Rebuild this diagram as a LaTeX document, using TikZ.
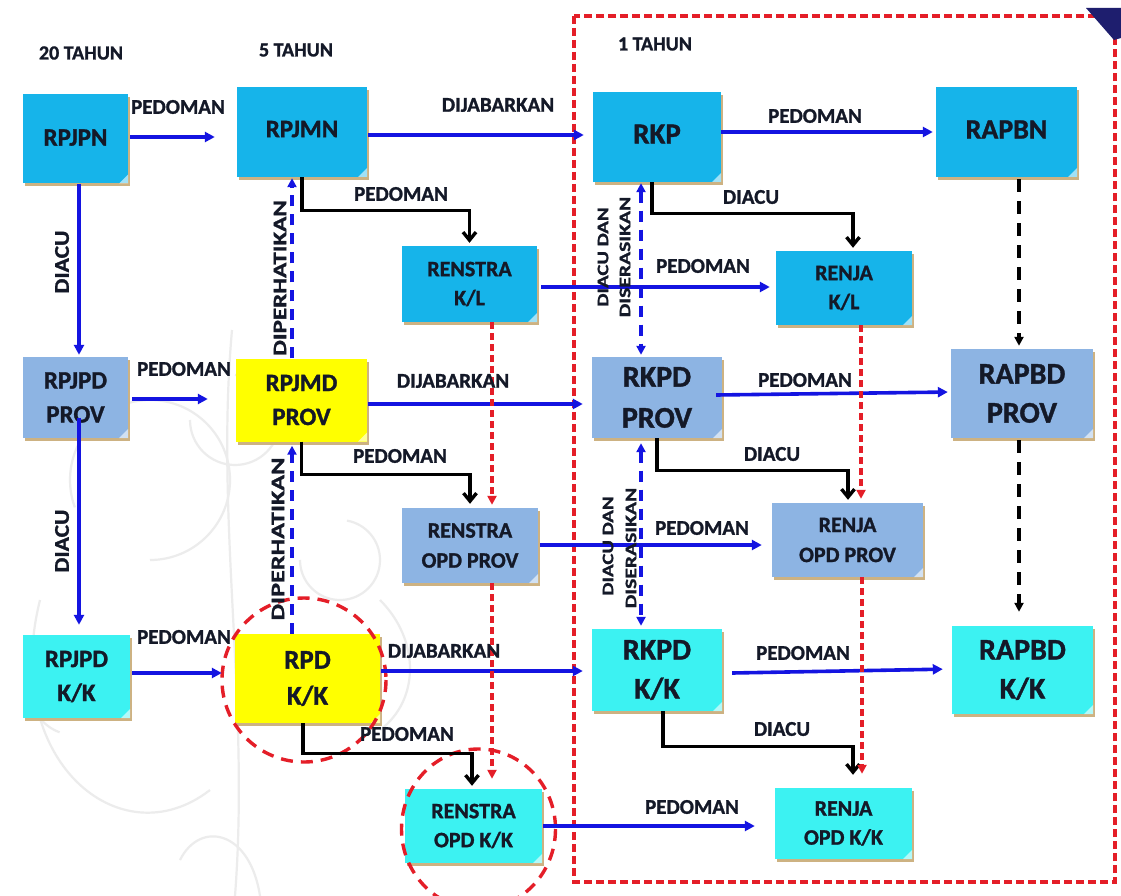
\documentclass[tikz,border=0pt]{standalone}
\usepackage{fontspec}
\setmainfont{Carlito}[BoldFeatures={FakeBold=1.2}]
\usetikzlibrary{arrows.meta,calc,shadows}

\definecolor{natblue}{RGB}{22,180,234}
\definecolor{provblue}{RGB}{141,180,227}
\definecolor{kkcyan}{RGB}{60,242,242}
\definecolor{ylw}{RGB}{255,255,0}
\definecolor{txt}{RGB}{20,25,40}
\definecolor{arrblue}{RGB}{20,20,225}
\definecolor{dred}{RGB}{228,30,40}
\definecolor{navy}{RGB}{30,30,110}
\definecolor{shadowtan}{RGB}{205,178,130}
\definecolor{swirl}{RGB}{236,236,236}

\newcommand\myfs[2]{\fontsize{#1}{#2}\selectfont}

\tikzset{
  box/.style={fill=#1, draw=none, align=center, text=txt, inner sep=0pt,
    general shadow={fill=shadowtan, shadow xshift=2pt, shadow yshift=-3pt},
    path picture={\fill[white,opacity=0.6] (path picture bounding box.south east) -- ++(-9pt,0pt) -- ++(9pt,9pt) -- cycle;}},
  bw/.style 2 args={minimum width=#1 pt, minimum height=#2 pt},
  lbl/.style={font=\bfseries\myfs{21}{25}, text=txt, inner sep=0pt},
  tlbl/.style={font=\bfseries\myfs{20}{24}, text=txt, inner sep=0pt},
  vlbl/.style={font=\bfseries\myfs{#1}{#1}, text=txt, inner sep=0pt, rotate=90},
  barrow/.style={draw=arrblue, line width=3.6pt, -{Triangle[length=10pt,width=10pt]}},
  karrow/.style={draw=black, line width=3.4pt, -{Straight Barb[length=8pt,width=13pt]}},
  bdash/.style={draw=arrblue, line width=3.4pt, dash pattern=on 11pt off 8pt, -{Triangle[length=9pt,width=9pt]}},
  bdash2/.style={draw=arrblue, line width=3.4pt, dash pattern=on 11pt off 8pt, {Triangle[length=9pt,width=9pt]}-{Triangle[length=9pt,width=9pt]}},
  kdash/.style={draw=black, line width=3.4pt, dash pattern=on 13pt off 9pt, -{Triangle[length=9pt,width=9pt]}},
  rdash/.style={draw=dred, line width=3.4pt, dash pattern=on 7pt off 4pt, -{Triangle[length=9pt,width=9pt]}},
  swirlline/.style={draw=swirl, line width=2.2pt},
}

\begin{document}
\begin{tikzpicture}[x=1pt,y=-1pt]
\useasboundingbox (0,0) rectangle (1121,896);
\fill[white] (0,0) rectangle (1121,896);

% faint background swirls
\draw[swirlline] (232,330) .. controls (215,520) and (250,700) .. (235,896);
\draw[swirlline] (190,420) arc[start angle=180, end angle=-90, radius=45];
\draw[swirlline] (150,560) arc[start angle=90, end angle=-200, radius=80];
\draw[swirlline] (120,690) arc[start angle=0, end angle=-250, radius=45];
\draw[swirlline] (40,600) .. controls (0,760) and (120,860) .. (210,790);
\draw[swirlline] (300,560) arc[start angle=180, end angle=-80, radius=40];
\draw[swirlline] (180,860) .. controls (200,820) and (250,830) .. (260,896);
\draw[swirlline] (380,600) .. controls (420,640) and (420,700) .. (380,730);

% frame for the 1-year group
\draw[dred, line width=3.4pt, dash pattern=on 8pt off 4pt] (574,16) rectangle (1115,882);
\fill[navy] (1086,8) -- (1121,8) -- (1121,38) -- (1114,40) -- cycle;

% period headers
\node[tlbl] (h20) at (81,53) {20 TAHUN};
\node[tlbl] (h5) at (296,50) {5 TAHUN};
\node[tlbl] (h1) at (655,44) {1 TAHUN};

% boxes
\node[box=natblue, bw={105}{89}, font=\bfseries\myfs{25}{34}] (RPJPN) at (75.5,139) {\raisebox{3pt}{RPJPN}};
\node[box=natblue, bw={130}{90}, font=\bfseries\myfs{25}{34}] (RPJMN) at (302,132) {\raisebox{6pt}{RPJMN}};
\node[box=natblue, bw={128}{90}, font=\bfseries\myfs{29}{38}] (RKP) at (657,137) {\raisebox{6pt}{RKP}};
\node[box=natblue, bw={141}{90}, font=\bfseries\myfs{28}{38}] (RAPBN) at (1006.5,132) {\raisebox{5pt}{RAPBN}};
\node[box=natblue, bw={135}{76}, font=\bfseries\myfs{22}{29}] (RENSTRAKL) at (469.5,284) {RENSTRA\\K/L};
\node[box=natblue, bw={136}{74}, font=\bfseries\myfs{22}{29}] (RENJAKL) at (844,288) {RENJA\\K/L};

\node[box=provblue, bw={105}{81}, font=\bfseries\myfs{25}{34}] (RPJPDPROV) at (75.5,397.5) {RPJPD\\PROV};
\node[box=ylw, bw={131}{83}, font=\bfseries\myfs{25}{34}] (RPJMDPROV) at (301.5,400) {RPJMD\\PROV};
\node[box=provblue, bw={130}{81}, font=\bfseries\myfs{30}{41}] (RKPDPROV) at (657,397.5) {RKPD\\PROV};
\node[box=provblue, bw={142}{89}, font=\bfseries\myfs{30}{39}] (RAPBDPROV) at (1022,393.5) {RAPBD\\PROV};
\node[box=provblue, bw={136}{75}, font=\bfseries\myfs{22}{30}] (RENSTRAOPDPROV) at (470,545.5) {RENSTRA\\OPD PROV};
\node[box=provblue, bw={151}{74}, font=\bfseries\myfs{22}{30}] (RENJAOPDPROV) at (847.5,540) {RENJA\\OPD PROV};

\node[box=kkcyan, bw={107}{83}, font=\bfseries\myfs{25}{34}] (RPJPDKK) at (76.5,676.5) {RPJPD\\K/K};
\node[box=ylw, bw={145}{89}, font=\bfseries\myfs{27}{36}] (RPDKK) at (307.5,678.5) {RPD\\K/K};
\node[box=kkcyan, bw={130}{82}, font=\bfseries\myfs{30}{39}] (RKPDKK) at (657,670) {RKPD\\K/K};
\node[box=kkcyan, bw={141}{88}, font=\bfseries\myfs{30}{39}] (RAPBDKK) at (1022.5,670) {RAPBD\\K/K};
\node[box=kkcyan, bw={137}{74}, font=\bfseries\myfs{22}{29}] (RENSTRAOPDKK) at (473.5,826) {RENSTRA\\OPD K/K};
\node[box=kkcyan, bw={137}{71}, font=\bfseries\myfs{22}{29}] (RENJAOPDKK) at (843.5,823.5) {RENJA\\OPD K/K};

% highlight circles
\draw[dred, line width=3.4pt, dash pattern=on 12pt off 8pt] (304,680) circle [radius=82];
\draw[dred, line width=3.4pt, dash pattern=on 12pt off 8pt] (478.5,829) ellipse [x radius=77, y radius=80];

% blue solid arrows
\draw[barrow, shorten >=22pt] ($(RPJPN.east)+(2,-2)$) -- ($(RPJMN.west)+(0,5)$);
\draw[barrow, shorten >=9pt] ($(RPJMN.east)+(1,3)$) -- ($(RKP.west)+(0,-2)$);
\draw[barrow, shorten >=3pt] ($(RKP.east)+(0,-5)$) -- ($(RAPBN.west)+(0,0)$);
\draw[barrow, shorten >=6pt] ($(RENSTRAKL.east)+(4,3)$) -- ($(RENJAKL.west)+(0,-1)$);
\draw[barrow, shorten >=2pt] ($(RPJPN.south)+(3.5,0)$) -- ($(RPJPDPROV.north)+(3.5,0)$);

\draw[barrow, shorten >=28pt] ($(RPJPDPROV.east)+(4,1.5)$) -- ($(RPJMDPROV.west)+(0,-1)$);
\draw[barrow, shorten >=9pt] ($(RPJMDPROV.east)+(1,4)$) -- ($(RKPDPROV.west)+(0,6.5)$);
\draw[barrow, shorten >=3pt] ($(RKPDPROV.east)+(-6,-2.5)$) -- ($(RAPBDPROV.west)+(0,-1.5)$);
\draw[barrow, shorten >=10pt] ($(RPJPDPROV.center)+(3.5,20)$) -- ($(RPJPDKK.north)+(2.5,0)$);
\draw[barrow, shorten >=10pt] ($(RENSTRAOPDPROV.east)+(2,-0.5)$) -- ($(RENJAOPDPROV.west)+(0,5)$);

\draw[barrow, shorten >=13pt] ($(RPJPDKK.east)+(2,-3.5)$) -- ($(RPDKK.west)+(0,-5.5)$);
\draw[barrow, shorten >=9pt] ($(RPDKK.east)+(1,-7.5)$) -- ($(RKPDKK.west)+(0,1)$);
\draw[barrow, shorten >=9pt] ($(RKPDKK.east)+(10,3)$) -- ($(RAPBDKK.west)+(0,-1)$);
\draw[barrow, shorten >=20pt] ($(RENSTRAOPDKK.east)+(1,0)$) -- ($(RENJAOPDKK.west)+(0,2.5)$);

% black elbow arrows
\draw[karrow, shorten >=3pt] (RPJMN.south) -- ++(0,33) -| (RENSTRAKL.north);
\draw[karrow, shorten >=3pt] ($(RKP.south)+(-5,0)$) -- ++(0,31) -| ($(RENJAKL.north)+(9,0)$);
\draw[karrow, shorten >=4pt] (RPJMDPROV.south) -- ++(0,33) -| (RENSTRAOPDPROV.north);
\draw[karrow, shorten >=3pt] (RKPDPROV.south) -- ++(0,32) -| ($(RENJAOPDPROV.north)+(0.5,0)$);
\draw[karrow, shorten >=3pt] ($(RPDKK.south)+(-4.5,0)$) -- ++(0,30) -| ($(RENSTRAOPDKK.north)+(-1.5,0)$);
\draw[karrow, shorten >=13pt] ($(RKPDKK.south)+(6,0)$) -- ++(0,35) -| ($(RENJAOPDKK.north)+(9.5,0)$);

% blue dashed
\draw[bdash, shorten >=1pt] ($(RPJMDPROV.north)+(-9.5,0)$) -- ($(RPJMN.south)+(-10,0)$);
\draw[bdash, shorten >=4pt] ($(RPDKK.north)+(-15.5,0)$) -- ($(RPJMDPROV.south)+(-9.5,0)$);
\draw[bdash2, shorten >=2pt, shorten <=1pt] ($(RKP.south)+(-16,0)$) -- ($(RKPDPROV.north)+(-16,0)$);
\draw[bdash2, shorten >=3pt, shorten <=5pt] ($(RKPDPROV.south)+(-16,0)$) -- ($(RKPDKK.north)+(-16,0)$);

% black dashed
\draw[kdash, shorten >=3pt] ($(RAPBN.south)+(12.5,2)$) -- ($(RAPBDPROV.north)+(-3,0)$);
\draw[kdash, shorten >=14pt] ($(RAPBDPROV.south)+(-3,2)$) -- ($(RAPBDKK.north)+(-3.5,0)$);

% red dashed
\draw[rdash, shorten >=3pt] ($(RENSTRAKL.south)+(22.5,0)$) -- ($(RENSTRAOPDPROV.north)+(22,0)$);
\draw[rdash, shorten >=4pt] ($(RENJAKL.south)+(17,0)$) -- ($(RENJAOPDPROV.north)+(13.5,0)$);
\draw[rdash, shorten >=10pt] ($(RENSTRAOPDPROV.south)+(22,0)$) -- ($(RENSTRAOPDKK.north)+(18.5,0)$);
\draw[rdash, shorten >=14pt] ($(RENJAOPDPROV.south)+(14.5,0)$) -- ($(RENJAOPDKK.north)+(18.5,0)$);

% labels
\node[lbl] (l01) at (178,107) {PEDOMAN};
\node[lbl] (l02) at (498,105) {DIJABARKAN};
\node[lbl] (l03) at (815,116) {PEDOMAN};
\node[lbl] (l04) at (401,194) {PEDOMAN};
\node[lbl] (l05) at (751,197) {DIACU};
\node[lbl] (l06) at (703,266) {PEDOMAN};
\node[lbl] (l07) at (184,369) {PEDOMAN};
\node[lbl] (l08) at (453,381) {DIJABARKAN};
\node[lbl] (l09) at (805,380) {PEDOMAN};
\node[lbl] (l10) at (400,456) {PEDOMAN};
\node[lbl] (l11) at (772,454) {DIACU};
\node[lbl] (l12) at (702,528) {PEDOMAN};
\node[lbl] (l13) at (184,637) {PEDOMAN};
\node[lbl] (l14) at (444,651) {DIJABARKAN};
\node[lbl] (l15) at (803,653) {PEDOMAN};
\node[lbl] (l16) at (407,734) {PEDOMAN};
\node[lbl] (l17) at (782,729) {DIACU};
\node[lbl] (l18) at (692,807) {PEDOMAN};

% vertical labels
\node[vlbl=21] (v01) at (62,262) {\scalebox{1.12}[1]{DIACU}};
\node[vlbl=21] (v02) at (62,541) {\scalebox{1.12}[1]{DIACU}};
\node[vlbl=19] (v03) at (280,278) {\scalebox{1.32}[1]{DIPERHATIKAN}};
\node[vlbl=19] (v04) at (278,539) {\scalebox{1.38}[1]{DIPERHATIKAN}};
\node[vlbl=16] (v05) at (603,257) {\scalebox{1.3}[1]{DIACU DAN}};
\node[vlbl=16] (v06) at (625,257) {\scalebox{1.35}[1]{DISERASIKAN}};
\node[vlbl=16] (v07) at (608,546) {\scalebox{1.3}[1]{DIACU DAN}};
\node[vlbl=16] (v08) at (631,548) {\scalebox{1.35}[1]{DISERASIKAN}};
\end{tikzpicture}
\end{document}
